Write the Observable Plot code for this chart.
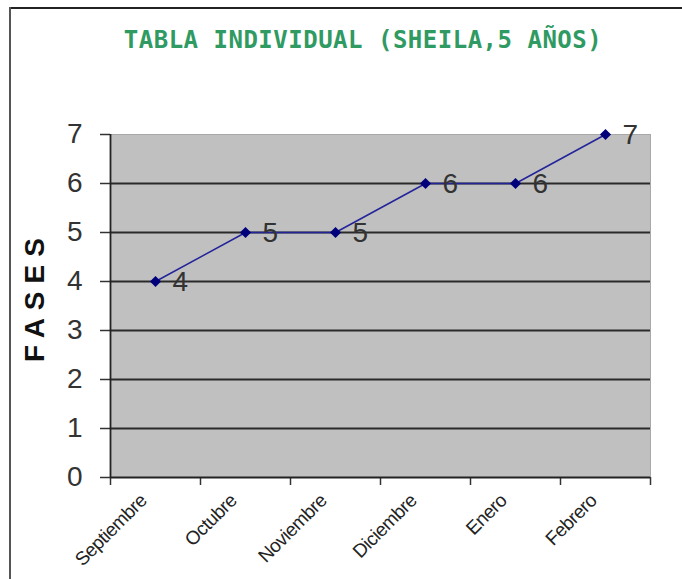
<!DOCTYPE html>
<html>
<head>
<meta charset="utf-8">
<script src="https://cdn.jsdelivr.net/npm/d3@7"></script>
<script src="https://cdn.jsdelivr.net/npm/@observablehq/plot@0.6"></script>
<style>
  html, body { margin: 0; padding: 0; background: #fff; }
  #wrap { position: relative; width: 682px; height: 579px; overflow: hidden; background: #fff; }
  #border-top { position: absolute; left: 9px; top: 7px; width: 673px; height: 2px; background: #222; }
  #border-left { position: absolute; left: 9px; top: 7px; width: 2px; height: 572px; background: #555; }
  #title { position: absolute; left: 0; top: 0; width: 682px; height: 70px; text-align: center; box-sizing: border-box; padding-left: 44px;
           font-family: "DejaVu Sans Mono", monospace; font-weight: bold; font-size: 24px;
           letter-spacing: 0.5px; color: #2f9a62; line-height: 80px; }
  #chart { position: absolute; left: 0; top: 70px; }
</style>
</head>
<body>
<div id="wrap">
  <div id="border-top"></div>
  <div id="border-left"></div>
  <div id="title">TABLA INDIVIDUAL (SHEILA,5 AÑOS)</div>
  <div id="chart"></div>
</div>
<script>
const months = ["Septiembre", "Octubre", "Noviembre", "Diciembre", "Enero", "Febrero"];
const fases = [4, 5, 5, 6, 6, 7];
const yTicks = [0, 1, 2, 3, 4, 5, 6, 7];
const yLabel = "FASES";

const data = months.map((m, i) => ({ m, i, v: fases[i] }));
const xPos = d => d.i + 0.5;

const chart = Plot.plot({
  width: 682,
  height: 509,
  marginTop: 64,
  marginBottom: 102,
  marginLeft: 110,
  marginRight: 32,
  x: { type: "linear", domain: [0, months.length], axis: null },
  y: { domain: [0, 7], axis: null },
  style: { fontFamily: "'Liberation Sans', Arial, sans-serif", background: "transparent", overflow: "visible" },
  marks: [
    Plot.frame({ fill: "#c0c0c0", stroke: null }),
    Plot.ruleY(yTicks.filter(t => t > 0 && t < 7), { stroke: "#2a2a2a", strokeWidth: 1.8 }),
    Plot.ruleY([7], { stroke: "#a8a8a8", strokeWidth: 1 }),
    Plot.ruleX([months.length], { stroke: "#a8a8a8", strokeWidth: 1 }),
    Plot.axisY({ ticks: yTicks, tickFormat: d => String(d), tickSize: 10, tickPadding: 18, fontSize: 28, color: "#333", label: null, strokeWidth: 1.5 }),
    Plot.axisX({ ticks: d3.range(months.length + 1), tickSize: 8, tickFormat: () => "", label: null, color: "#333", strokeWidth: 1.5 }),
    Plot.ruleX([0], { stroke: "#222", strokeWidth: 1.8 }),
    Plot.ruleY([0], { stroke: "#222", strokeWidth: 1.8 }),
    Plot.line(data, { x: xPos, y: "v", stroke: "#23239a", strokeWidth: 1.5 }),
    Plot.dot(data, { x: xPos, y: "v", symbol: "diamond2", r: 5, fill: "#00007a", stroke: null }),
    Plot.text(data, { x: xPos, y: "v", text: d => String(d.v), dx: 17, dy: 1, textAnchor: "start", fontSize: 28, fill: "#333" }),
    Plot.text(data, { x: xPos, y: () => 0, text: "m", rotate: -45, textAnchor: "end", dx: -12, dy: 20, fontSize: 19, fill: "#222", className: "xlab" }),
    Plot.text([yLabel], { frameAnchor: "left", text: d => d, rotate: -90, textAnchor: "middle", dx: -75, dy: -10, fontSize: 28, fontWeight: "bold", fill: "#111", className: "fases" })
  ]
});
d3.select(chart).selectAll(".fases text").attr("letter-spacing", 8);
d3.select(chart).selectAll(".xlab text").attr("letter-spacing", -0.5);
document.getElementById("chart").appendChild(chart);
</script>
</body>
</html>
